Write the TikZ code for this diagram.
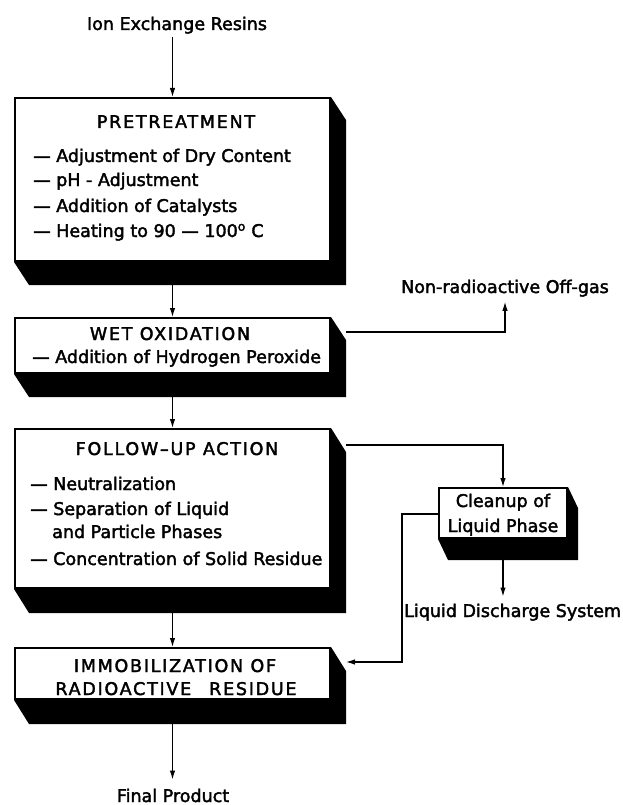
\documentclass[tikz,border=0pt]{standalone}
\usepackage{fontspec}
\setmainfont[FakeBold=2.2]{DejaVu Sans}
\newfontfamily\ttlfont[LetterSpace=10,FakeBold=2.2]{DejaVu Sans}
\newfontfamily\txtfont[FakeBold=2.2]{DejaVu Sans}
\usetikzlibrary{arrows.meta}
\pgfdeclarelayer{bg}
\pgfsetlayers{bg,main}
\newcommand\mkshadow[3]{%
  \fill (#1.north east) -- ++(#2,#3) -- ([shift={(#2,#3)}]#1.south east)
    -- ([shift={(#2,#3)}]#1.south west) -- (#1.south west) -- cycle;}
\begin{document}
\begin{tikzpicture}[x=1pt,y=-1pt,
  box/.style={draw, line width=2pt, fill=white, inner sep=0pt, anchor=north west},
  lbl/.style={inner sep=0pt, font=\txtfont\fontsize{17.5}{20}\selectfont},
  ttl/.style={inner sep=0pt, anchor=base, font=\ttlfont\fontsize{17.5}{20}\selectfont},
  itm/.style={lbl, anchor=base west},
  arr/.style={line width=1.2pt, -{Latex[length=9pt,width=5.5pt]}}]
\useasboundingbox (0,0) rectangle (622,805);

% boxes
\node[box, minimum width=315pt, minimum height=163pt] (pre) at (14,97) {};
\node[box, minimum width=315pt, minimum height=55pt] (wet) at (14,317) {};
\node[box, minimum width=315pt, minimum height=159pt] (fol) at (14,428) {};
\node[box, minimum width=315pt, minimum height=51pt] (imm) at (14,647) {};
\node[box, minimum width=128pt, minimum height=50pt] (cln) at (438,487) {};
\begin{pgfonlayer}{bg}
\fill[white] (0,0) rectangle (622,805);
\mkshadow{pre}{15}{23}
\mkshadow{wet}{15}{23}
\mkshadow{fol}{15}{24}
\mkshadow{imm}{15}{24}
\mkshadow{cln}{10}{21}
\end{pgfonlayer}

% texts
\node[lbl, anchor=base] (ion) at (177,30) {Ion Exchange Resins};
\node[ttl] (preT) at (176,128) {PRETREATMENT};
\node[itm] (pre1) at (33,162) {— Adjustment of Dry Content};
\node[itm] (pre2) at (33,186) {— pH - Adjustment};
\node[itm] (pre3) at (33,212) {— Addition of Catalysts};
\node[itm] (pre4) at (33,237) {— Heating to 90 — 100\textsuperscript{o} C};

\node[ttl] (wetT) at (170,340) {WET OXIDATION};
\node[itm] (wet1) at (32,363) {— Addition of Hydrogen Peroxide};

\node[ttl] (folT) at (177,455) {FOLLOW–UP ACTION};
\node[itm] (fol1) at (30,490) {— Neutralization};
\node[itm] (fol2) at (30,515) {— Separation of Liquid};
\node[itm] (fol3) at (52,538) {and Particle Phases};
\node[itm] (fol4) at (30,565) {— Concentration of Solid Residue};

\node[ttl] (immT1) at (175,672) {IMMOBILIZATION OF};
\node[ttl] (immT2) at (176,695) {RADIOACTIVE\hspace{18pt}RESIDUE};

\node[lbl, anchor=base] (cln1) at (503,507) {Cleanup of};
\node[lbl, anchor=base] (cln2) at (503,532) {Liquid Phase};

\node[lbl, anchor=base] (gas) at (505,293) {Non-radioactive Off-gas};
\node[lbl, anchor=base west] (lds) at (404,617) {Liquid Discharge System};
\node[lbl, anchor=base] (fin) at (173,802) {Final Product};

% connectors
\draw[arr] ([yshift=-3pt]ion.south -| pre.north) -- (pre.north);
\draw[arr] ([yshift=-23pt]pre.south) -- (wet.north);
\draw[arr] ([shift={(15,15)}]wet.north east) -| ([yshift=-5pt]gas.south);
\draw[arr] ([yshift=-23pt]wet.south) -- (fol.north);
\draw[arr] ([shift={(15,17)}]fol.north east) -| (cln.north);
\draw[arr] ([yshift=-21pt]cln.south) -- ([yshift=7pt]cln.south |- lds.north);
\draw[arr] ([yshift=-24pt]fol.south) -- (imm.north);
\draw[arr] ([yshift=-1pt]cln.west) -- ++(-36,0) |- ([shift={(15,15)}]imm.north east);
\draw[arr] ([yshift=-24pt]imm.south) -- ([yshift=9pt]imm.south |- fin.north);
\end{tikzpicture}
\end{document}
